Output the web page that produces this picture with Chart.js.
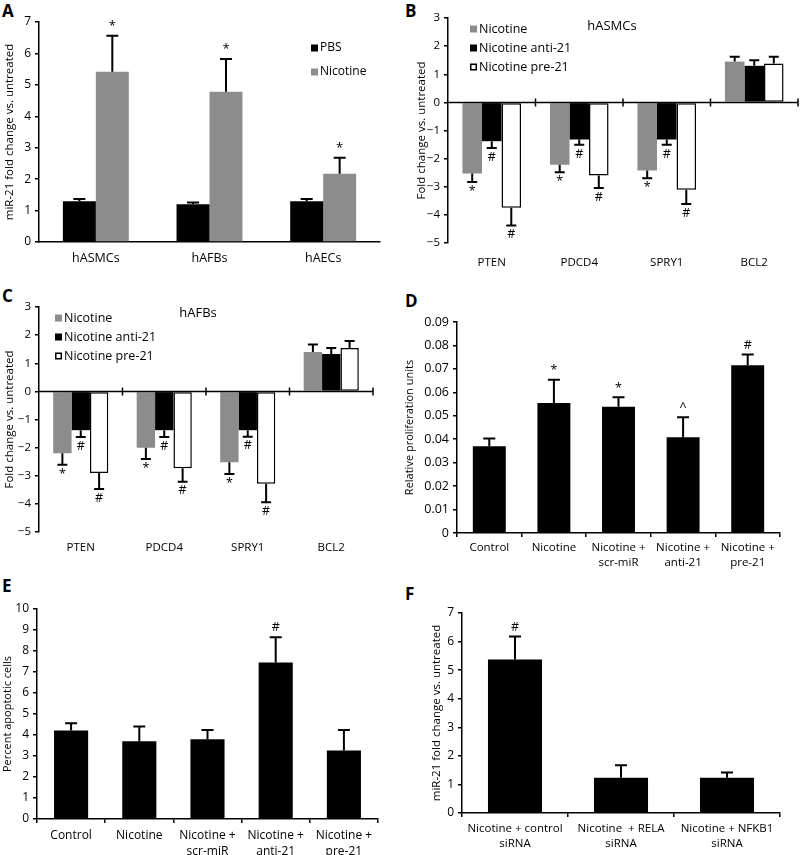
<!DOCTYPE html>
<html>
<head>
<meta charset="utf-8">
<script src="https://cdn.jsdelivr.net/npm/chart.js@4.4.0/dist/chart.umd.min.js"></script>
<style>
  body { margin: 0; background: #fff; width: 800px; height: 855px; position: relative; overflow: hidden; }
  canvas { position: absolute; }
  .tag { position: absolute; font: bold 17px 'Open Sans', sans-serif; line-height: 1; color: #000; }
</style>
</head>
<body>
<div class="tag" style="left:2px;top:2px">A</div>
<div class="tag" style="left:405px;top:2px">B</div>
<div class="tag" style="left:2px;top:287px">C</div>
<div class="tag" style="left:405px;top:292px">D</div>
<div class="tag" style="left:2px;top:577px">E</div>
<div class="tag" style="left:405px;top:585px">F</div>

<canvas id="chartA" width="400" height="285" style="left:0;top:0"></canvas>
<canvas id="chartB" width="400" height="285" style="left:400px;top:0"></canvas>
<canvas id="chartC" width="400" height="285" style="left:0;top:285px"></canvas>
<canvas id="chartD" width="400" height="285" style="left:400px;top:285px"></canvas>
<canvas id="chartE" width="400" height="285" style="left:0;top:570px"></canvas>
<canvas id="chartF" width="400" height="285" style="left:400px;top:570px"></canvas>

<script>
// A - miR-21 in three cell types
const aCats = ['hASMCs', 'hAFBs', 'hAECs']
const aPbs = [1.3, 1.2, 1.3]
const aPbsErr = [0.07, 0.06, 0.07]
const aNic = [5.42, 4.78, 2.17]
const aNicErr = [1.14, 1.04, 0.51]
const aNicSig = ['*', '*', '*']
const aTicks = [0, 1, 2, 3, 4, 5, 6, 7]

// B / C - target genes
const geneCats = ['PTEN', 'PDCD4', 'SPRY1', 'BCL2']
const foldTicks = [-5, -4, -3, -2, -1, 0, 1, 2, 3]
const starSig = ['*', '*', '*', '']
const hashSig = ['#', '#', '#', '']

const bNic = [-2.53, -2.22, -2.42, 1.45]
const bNicErr = [0.3, 0.26, 0.28, 0.17]
const bAnti = [-1.38, -1.32, -1.32, 1.3]
const bAntiErr = [0.24, 0.19, 0.19, 0.2]
const bPre = [-3.75, -2.6, -3.11, 1.38]
const bPreErr = [0.63, 0.44, 0.5, 0.24]

const cNic = [-2.2, -2.0, -2.52, 1.4]
const cNicErr = [0.41, 0.4, 0.42, 0.27]
const cAnti = [-1.38, -1.38, -1.38, 1.33]
const cAntiErr = [0.24, 0.24, 0.23, 0.21]
const cPre = [-2.9, -2.73, -3.28, 1.54]
const cPreErr = [0.57, 0.48, 0.66, 0.25]

// D / E - treatments
const treatCats = ['Control', 'Nicotine', ['Nicotine +', 'scr-miR'], ['Nicotine +', 'anti-21'], ['Nicotine +', 'pre-21']]
const dProlif = [0.037, 0.0555, 0.0539, 0.0408, 0.0716]
const dErr = [0.0033, 0.0099, 0.004, 0.0086, 0.0045]
const dSig = ['', '*', '*', '^', '#']
const dTicks = [0, 0.01, 0.02, 0.03, 0.04, 0.05, 0.06, 0.07, 0.08, 0.09]

const eApop = [4.21, 3.7, 3.8, 7.45, 3.26]
const eErr = [0.35, 0.7, 0.44, 1.21, 0.98]
const eSig = ['', '', '', '#', '']
const eTicks = [0, 1, 2, 3, 4, 5, 6, 7, 8, 9, 10]

// F - siRNA
const fCats = [['Nicotine + control', 'siRNA'], ['Nicotine  + RELA', 'siRNA'], ['Nicotine + NFKB1', 'siRNA']]
const fMir = [5.37, 1.23, 1.23]
const fErr = [0.81, 0.44, 0.19]
const fSig = ['#', '', '']
const fTicks = [0, 1, 2, 3, 4, 5, 6, 7]

const GRAY = '#8c8c8c'
const FONT = "'Open Sans', sans-serif"
Chart.defaults.font.family = FONT
Chart.defaults.color = '#000'

// error bars + significance marks
const errorBars = {
  id: 'errorBars',
  afterDatasetsDraw(chart, args, opts) {
    const { ctx } = chart
    const y = chart.scales.y
    chart.data.datasets.forEach((ds, i) => {
      if (!ds.errors) return
      chart.getDatasetMeta(i).data.forEach((bar, j) => {
        const v = ds.data[j]
        const dir = v < 0 ? -1 : 1
        const end = y.getPixelForValue(v + dir * ds.errors[j])
        const cap = opts.cap || 12
        ctx.save()
        ctx.strokeStyle = '#000'
        ctx.lineWidth = 2
        ctx.beginPath()
        ctx.moveTo(bar.x, bar.y)
        ctx.lineTo(bar.x, end)
        ctx.moveTo(bar.x - cap / 2, end)
        ctx.lineTo(bar.x + cap / 2, end)
        ctx.stroke()
        const mark = ds.marks && ds.marks[j]
        if (mark) {
          ctx.fillStyle = '#000'
          ctx.font = (opts.markSize || 12) + 'px ' + FONT
          ctx.textAlign = 'center'
          ctx.textBaseline = dir > 0 ? 'bottom' : 'top'
          ctx.fillText(mark, bar.x, end - dir * 3)
        }
        ctx.restore()
      })
    })
  }
}

// legend and inner title drawn at fixed spots
const boxLegend = {
  id: 'boxLegend',
  afterDraw(chart, args, opts) {
    if (!opts.x) return
    const { ctx } = chart
    ctx.save()
    ctx.font = opts.size + 'px ' + FONT
    ctx.textBaseline = 'middle'
    chart.data.datasets.forEach((ds, i) => {
      const yy = opts.y + i * opts.gap
      ctx.fillStyle = ds.backgroundColor
      ctx.fillRect(opts.x, yy - 3.5, 7, 7)
      if (ds.borderWidth) {
        ctx.strokeStyle = '#000'
        ctx.lineWidth = 1.5
        ctx.strokeRect(opts.x + 0.75, yy - 2.75, 5.5, 5.5)
      }
      ctx.fillStyle = '#000'
      ctx.fillText(ds.label, opts.x + 9, yy)
    })
    if (opts.title) {
      ctx.font = '13px ' + FONT
      ctx.textAlign = 'center'
      ctx.fillText(opts.title, opts.titleX, opts.titleY)
    }
    ctx.restore()
  }
}

// zero line with category ticks for B and C
const zeroAxis = {
  id: 'zeroAxis',
  afterDatasetsDraw(chart, args, opts) {
    if (!opts.on) return
    const { ctx, chartArea } = chart
    const x = chart.scales.x
    const y0 = chart.scales.y.getPixelForValue(0)
    ctx.save()
    ctx.strokeStyle = '#000'
    ctx.lineWidth = 1.5
    ctx.beginPath()
    ctx.moveTo(chartArea.left, y0)
    ctx.lineTo(chartArea.right, y0)
    const step = x.getPixelForValue(1) - x.getPixelForValue(0)
    for (let i = 0; i < x.ticks.length; i++) {
      const px = x.getPixelForValue(i) + step / 2
      ctx.moveTo(px, y0 - 4)
      ctx.lineTo(px, y0 + 4)
    }
    ctx.stroke()
    ctx.restore()
  }
}

function makeChart(id, opt) {
  const fmt = opt.fmt || (v => String(v).replace('-', '\u2212'))
  return new Chart(document.getElementById(id), {
    type: 'bar',
    data: { labels: opt.labels, datasets: opt.datasets },
    plugins: [errorBars, boxLegend, zeroAxis],
    options: {
      responsive: false,
      animation: false,
      layout: { padding: opt.pad },
      datasets: { bar: { categoryPercentage: opt.catPct, barPercentage: 1 } },
      plugins: {
        legend: { display: false },
        tooltip: { enabled: false },
        errorBars: { cap: opt.cap, markSize: opt.markSize },
        boxLegend: opt.legend || {},
        zeroAxis: { on: !!opt.zero }
      },
      scales: {
        x: {
          afterFit: s => { s.height = opt.xH },
          border: { display: !opt.zero, color: '#000', width: 1.5 },
          grid: { display: !!opt.xTicks, drawOnChartArea: false, color: '#000', lineWidth: 1.5, tickLength: 4 },
          ticks: { padding: opt.xPad, font: { size: opt.xSize, lineHeight: 1.3 }, maxRotation: 0, autoSkip: false }
        },
        y: {
          min: opt.ticks[0],
          max: opt.ticks[opt.ticks.length - 1],
          afterFit: s => { s.width = opt.yW },
          afterBuildTicks: s => { s.ticks = opt.ticks.map(v => ({ value: v })) },
          border: { color: '#000', width: 1.5 },
          grid: { drawOnChartArea: false, color: '#000', lineWidth: 1.5, tickLength: 4 },
          ticks: { padding: 4, font: { size: opt.ySize }, callback: v => fmt(v) },
          title: { display: true, text: opt.yTitle, font: { size: opt.tSize }, padding: { top: opt.tPad, bottom: 0 } }
        }
      }
    }
  })
}

makeChart('chartA', {
  labels: aCats,
  datasets: [
    { label: 'PBS', data: aPbs, errors: aPbsErr, backgroundColor: '#000' },
    { label: 'Nicotine', data: aNic, errors: aNicErr, marks: aNicSig, backgroundColor: GRAY }
  ],
  pad: { left: 0, top: 22, right: 20, bottom: 0 },
  yW: 39, xH: 43, xPad: 4, xSize: 12.5, ySize: 12, catPct: 0.58, cap: 12, markSize: 13,
  ticks: aTicks, yTitle: 'miR-21 fold change vs. untreated', tSize: 11.5, tPad: 3,
  legend: { x: 311, y: 48, gap: 24, size: 12 }
})

const geneSets = (nic, nicE, anti, antiE, pre, preE) => [
  { label: 'Nicotine', data: nic, errors: nicE, marks: starSig, backgroundColor: GRAY },
  { label: 'Nicotine anti-21', data: anti, errors: antiE, marks: hashSig, backgroundColor: '#000' },
  { label: 'Nicotine pre-21', data: pre, errors: preE, marks: hashSig, backgroundColor: '#fff', borderColor: '#000', borderWidth: 1.5, borderSkipped: false }
]

makeChart('chartB', {
  labels: geneCats,
  datasets: geneSets(bNic, bNicErr, bAnti, bAntiErr, bPre, bPreErr),
  pad: { left: 0, top: 18, right: 2, bottom: 0 },
  yW: 48, xH: 42, xPad: 8, xSize: 11.5, ySize: 11.5, catPct: 0.67, cap: 10, markSize: 12.5,
  ticks: foldTicks, yTitle: 'Fold change vs. untreated', tSize: 11.5, tPad: 15, zero: true,
  legend: { x: 70, y: 29, gap: 19, size: 12.5, title: 'hASMCs', titleX: 212, titleY: 26 }
})

makeChart('chartC', {
  labels: geneCats,
  datasets: geneSets(cNic, cNicErr, cAnti, cAntiErr, cPre, cPreErr),
  pad: { left: 0, top: 22, right: 27, bottom: 0 },
  yW: 39, xH: 38, xPad: 4, xSize: 11.5, ySize: 11.5, catPct: 0.66, cap: 10, markSize: 12.5,
  ticks: foldTicks, yTitle: 'Fold change vs. untreated', tSize: 11.5, tPad: 3, zero: true,
  legend: { x: 55, y: 33, gap: 19, size: 12.5, title: 'hAFBs', titleX: 198, titleY: 28 }
})

makeChart('chartD', {
  labels: treatCats,
  datasets: [{ label: 'Proliferation', data: dProlif, errors: dErr, marks: dSig, backgroundColor: '#000' }],
  pad: { left: 0, top: 37, right: 20, bottom: 0 },
  yW: 57, xH: 37, xPad: 3, xSize: 11.5, ySize: 12.5, catPct: 0.51, cap: 12, markSize: 12.5,
  xTicks: true, fmt: v => (v === 0 ? '0' : v.toFixed(2)),
  ticks: dTicks, yTitle: 'Relative proliferation units', tSize: 11, tPad: 3
})

makeChart('chartE', {
  labels: treatCats,
  datasets: [{ label: 'Apoptosis', data: eApop, errors: eErr, marks: eSig, backgroundColor: '#000' }],
  pad: { left: 0, top: 39, right: 22, bottom: 0 },
  yW: 37, xH: 36, xPad: 5, xSize: 12, ySize: 12, catPct: 0.5, cap: 12, markSize: 12.5,
  xTicks: true,
  ticks: eTicks, yTitle: 'Percent apoptotic cells', tSize: 11, tPad: 1
})

makeChart('chartF', {
  labels: fCats,
  datasets: [{ label: 'miR-21', data: fMir, errors: fErr, marks: fSig, backgroundColor: '#000' }],
  pad: { left: 0, top: 43, right: 20, bottom: 0 },
  yW: 62, xH: 42, xPad: 4, xSize: 11.5, ySize: 12, catPct: 0.51, cap: 12, markSize: 12.5,
  xTicks: true,
  ticks: fTicks, yTitle: 'miR-21 fold change vs. untreated', tSize: 11.5, tPad: 30
})
</script>
</body>
</html>
